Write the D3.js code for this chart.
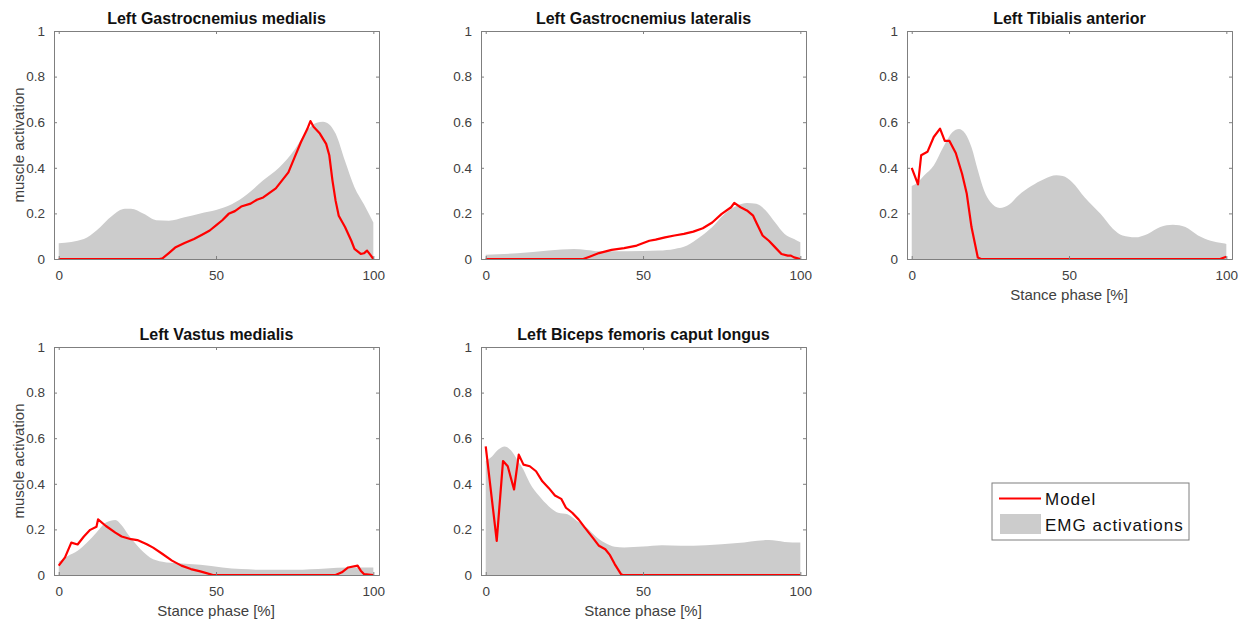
<!DOCTYPE html>
<html>
<head>
<meta charset="utf-8">
<script src="https://cdn.jsdelivr.net/npm/d3@7"></script>
<style>
  body { margin: 0; background: #fff; }
  svg { font-family: "Liberation Sans", Arial, sans-serif; }
</style>
</head>
<body>
<div id="chart"></div>
<script>
// muscle activation plots, stance phase 0..100 %

const width = 1246,
      height = 626;

const titles = ["Left Gastrocnemius medialis", "Left Gastrocnemius lateralis",
                "Left Tibialis anterior", "Left Vastus medialis",
                "Left Biceps femoris caput longus"];
const xTicks = [0, 50, 100];
const yTicks = [0, 0.2, 0.4, 0.6, 0.8, 1];
const yTickLabels = ["0", "0.2", "0.4", "0.6", "0.8", "1"];

// EMG envelopes  [stance %, activation]
const emgGM = [[0,0.069],[8,0.088],[12,0.125],[17,0.19],[21,0.22],[23,0.22],[27,0.198],[31,0.17],
  [35,0.168],[40,0.183],[45,0.2],[50,0.215],[55,0.24],[60,0.285],[65,0.345],[70,0.4],[75,0.48],
  [79,0.565],[82,0.598],[84,0.602],[86,0.59],[88,0.55],[91,0.43],[94,0.315],[97,0.24],[100,0.16]];
const emgGL = [[0,0.019],[10,0.025],[20,0.037],[28,0.044],[32,0.04],[36,0.034],[45,0.034],[55,0.037],
  [60,0.044],[64,0.059],[68,0.095],[72,0.14],[76,0.198],[80,0.235],[83,0.246],[86,0.242],[89,0.213],
  [92,0.16],[95,0.11],[98,0.088],[100,0.073]];
const emgTA = [[0,0.32],[2,0.337],[4,0.367],[7,0.41],[10,0.49],[13,0.557],[15,0.57],[17,0.55],[19,0.49],
  [21,0.39],[23,0.3],[25,0.25],[28,0.224],[31,0.239],[34,0.28],[38,0.32],[42,0.35],[46,0.367],[48,0.364],
  [51,0.337],[55,0.27],[60,0.198],[64,0.132],[67,0.103],[71,0.095],[75,0.11],[79,0.14],[83,0.15],
  [87,0.14],[91,0.103],[95,0.08],[99,0.069],[100,0.066]];
const emgVM = [[0,0.058],[3,0.084],[6,0.106],[9,0.142],[12,0.186],[15,0.23],[18,0.241],[20,0.218],
  [22,0.179],[25,0.128],[29,0.077],[33,0.058],[38,0.051],[45,0.045],[52,0.033],[58,0.026],[65,0.023],
  [75,0.023],[85,0.029],[92,0.033],[100,0.033]];
const emgBF = [[0,0.5],[2,0.52],[4,0.55],[6,0.564],[8,0.547],[10,0.506],[12,0.462],[14,0.404],[17,0.346],
  [20,0.302],[23,0.273],[26,0.266],[29,0.237],[32,0.208],[35,0.169],[38,0.14],[41,0.124],[44,0.121],
  [50,0.125],[56,0.131],[62,0.128],[70,0.131],[80,0.14],[90,0.153],[95,0.145],[100,0.142]];

// model activations
const modelGM = [[0,0],[32,0],[33,0.003],[35,0.026],[37,0.05],[40,0.07],[43,0.088],[46,0.11],[48,0.125],
  [50,0.147],[52,0.17],[54,0.198],[56,0.21],[58,0.23],[61,0.243],[63,0.26],[65,0.27],[67,0.29],[69,0.31],
  [71,0.345],[73,0.38],[75,0.447],[77,0.513],[79,0.57],[80,0.605],[81,0.58],[83,0.55],[85,0.505],
  [86,0.455],[87,0.345],[88,0.256],[89,0.19],[91,0.14],[93,0.08],[94,0.044],[96,0.022],[97,0.025],
  [98,0.037],[99,0.019],[100,0]];
const modelGL = [[0,0],[31,0],[33,0.01],[36,0.026],[40,0.04],[44,0.048],[48,0.059],[52,0.08],[54,0.085],
  [57,0.095],[60,0.103],[63,0.11],[66,0.12],[69,0.135],[72,0.16],[75,0.198],[78,0.227],[79,0.246],
  [81,0.227],[83,0.213],[85,0.19],[86,0.16],[88,0.103],[90,0.08],[92,0.051],[94,0.022],[96,0.015],
  [97,0.015],[98,0.007],[100,0]];
const modelTA = [[0,0.4],[2,0.327],[3,0.455],[5,0.47],[7,0.535],[9,0.572],[10.5,0.518],[12,0.518],
  [14,0.465],[16,0.374],[17.5,0.286],[19,0.14],[21,0.007],[22,0],[98,0],[100,0.01]];
const modelVM = [[0,0.041],[2,0.077],[4,0.142],[6,0.134],[8,0.169],[10,0.198],[12,0.212],[12.5,0.244],
  [15,0.215],[18,0.186],[20,0.169],[23,0.157],[25,0.153],[28,0.135],[30,0.12],[33,0.092],[36,0.063],
  [39,0.041],[42,0.026],[45,0.016],[48,0.004],[49,0],[88,0],[90,0.012],[92,0.033],[95,0.041],
  [96,0.019],[97,0.004],[100,0]];
const modelBF = [[0,0.564],[3.5,0.15],[5.5,0.5],[7,0.477],[9,0.375],[10.5,0.528],[12,0.484],[14,0.477],
  [16,0.455],[18,0.411],[20,0.382],[22,0.349],[24,0.334],[25.5,0.295],[27.5,0.273],[29.5,0.244],
  [31.5,0.208],[34,0.164],[36,0.128],[38,0.113],[39.5,0.087],[41,0.048],[43,0.004],[43.5,0],[100,0]];

const panels = [
  {title: titles[0], emg: emgGM, model: modelGM, left: 54, top: 31, ylab: true, xlab: false},
  {title: titles[1], emg: emgGL, model: modelGL, left: 481, top: 31, ylab: false, xlab: false},
  {title: titles[2], emg: emgTA, model: modelTA, left: 907, top: 31, ylab: false, xlab: true},
  {title: titles[3], emg: emgVM, model: modelVM, left: 54, top: 347, ylab: true, xlab: true},
  {title: titles[4], emg: emgBF, model: modelBF, left: 481, top: 347, ylab: false, xlab: true}
];

const pw = 325, ph = 228;
const axisColor = "#7f7f7f", textColor = "#404040";

const svg = d3.select("#chart").append("svg")
    .attr("width", width)
    .attr("height", height);

panels.forEach(function (p, i) {
  const x = d3.scaleLinear().domain([-1.5, 101.8]).range([0, pw]);
  const y = d3.scaleLinear().domain([0, 1]).range([ph, 0]);

  const g = svg.append("g").attr("transform", "translate(" + p.left + "," + p.top + ")");

  g.append("clipPath").attr("id", "clip" + i)
    .append("rect").attr("width", pw).attr("height", ph);

  const plot = g.append("g").attr("clip-path", "url(#clip" + i + ")");

  const area = d3.area()
      .x(d => x(d[0]))
      .y0(y(0))
      .y1(d => y(d[1]))
      .curve(d3.curveMonotoneX);
  plot.append("path").datum(p.emg)
      .attr("d", area)
      .attr("fill", "#cccccc");

  const line = d3.line().x(d => x(d[0])).y(d => y(d[1]));
  plot.append("path").datum(p.model)
      .attr("d", line)
      .attr("fill", "none")
      .attr("stroke", "#ff0000")
      .attr("stroke-width", 2.2)
      .attr("stroke-linejoin", "round");

  // axes, ticks pointing inwards on all four sides
  const bottom = g.append("g").attr("transform", "translate(0," + ph + ")")
      .call(d3.axisBottom(x).tickValues(xTicks).tickSize(-3).tickPadding(10).tickFormat(d3.format("d")));
  const top = g.append("g")
      .call(d3.axisTop(x).tickValues(xTicks).tickSize(-3).tickFormat(""));
  const left = g.append("g")
      .call(d3.axisLeft(y).tickValues(yTicks).tickSize(-3).tickPadding(9)
        .tickFormat((d, j) => yTickLabels[j]));
  const right = g.append("g").attr("transform", "translate(" + pw + ",0)")
      .call(d3.axisRight(y).tickValues(yTicks).tickSize(-3).tickFormat(""));

  [bottom, top, left, right].forEach(function (a) {
    a.selectAll(".domain").attr("stroke", axisColor).attr("stroke-width", 1);
    a.selectAll(".tick line").attr("stroke", axisColor);
    a.selectAll("text").attr("fill", textColor).style("font-size", "13.5px");
  });
  bottom.selectAll("text").attr("dy", "0.85em");

  g.append("text")
      .attr("x", pw / 2).attr("y", -7)
      .attr("text-anchor", "middle")
      .style("font-size", "16px").style("font-weight", "bold")
      .attr("fill", "#111")
      .text(p.title);

  if (p.ylab) {
    g.append("text")
        .attr("transform", "translate(-30.5," + ph / 2 + ") rotate(-90)")
        .attr("text-anchor", "middle")
        .style("font-size", "15px")
        .attr("fill", textColor)
        .text("muscle activation");
  }
  if (p.xlab) {
    g.append("text")
        .attr("x", x(50)).attr("y", ph + 41)
        .attr("text-anchor", "middle")
        .style("font-size", "15px")
        .attr("fill", textColor)
        .text("Stance phase [%]");
  }
});

// legend
const lg = svg.append("g").attr("transform", "translate(992,483)");
lg.append("rect").attr("width", 197).attr("height", 57)
  .attr("fill", "#fff").attr("stroke", axisColor);
lg.append("line").attr("x1", 7).attr("x2", 49).attr("y1", 15.5).attr("y2", 15.5)
  .attr("stroke", "#ff0000").attr("stroke-width", 2.2);
lg.append("text").attr("x", 53).attr("y", 21.5).style("font-size", "17px")
  .style("letter-spacing", "1px").attr("fill", "#111").text("Model");
lg.append("rect").attr("x", 8).attr("y", 31).attr("width", 41).attr("height", 20).attr("fill", "#cccccc");
lg.append("text").attr("x", 53).attr("y", 47.5).style("font-size", "17px")
  .style("letter-spacing", "1px").attr("fill", "#111").text("EMG activations");
</script>
</body>
</html>
